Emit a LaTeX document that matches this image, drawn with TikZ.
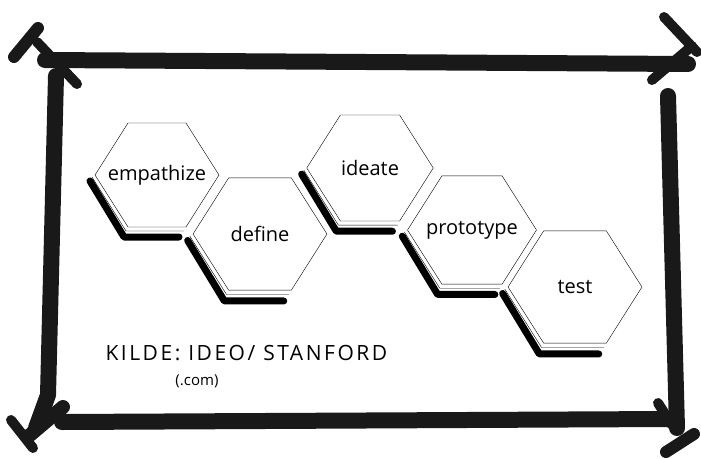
\documentclass[tikz,border=0pt]{standalone}
\usepackage{fontspec}
\setmainfont{Open Sans}
\newfontfamily\handfont[LetterSpace=12]{Open Sans}
\usetikzlibrary{positioning, calc}
\newcommand{\cellfont}{\fontsize{20}{22}\selectfont}
\tikzset{
  marker/.style={line width=16pt, line cap=round, line join=round, draw=black!90},
  tip/.style={line width=10pt, line cap=round, draw=black!90},
  lbl/.style={font=\cellfont, inner sep=1pt},
  hexcell/.pic={
    % shadow and bevel on the lower left
    \draw[line width=7pt, line cap=round, line join=round] (-67,6) -- (-33,62) -- (22,62);
    \draw[thin] (-65,2) -- (-31,56) -- (27,56);
    \filldraw[fill=white, draw=black, thin]
      (-62,0) -- (-29,-52) -- (29,-52) -- (62,0) -- (29,52) -- (-29,52) -- cycle;
    \node[lbl] (-txt) {#1};
  }
}
\begin{document}
\begin{tikzpicture}[x=1pt, y=-1pt]
  \useasboundingbox (0,0) rectangle (701,458);

  % frame
  \coordinate (tl) at (45,60);
  \coordinate (tr) at (688,64);
  \coordinate (lt) at (56,76);
  \coordinate (lb) at (48,395);
  \coordinate (bl) at (62,422);
  \coordinate (br) at (668,419);
  \coordinate (rt) at (668,96);
  \coordinate (rb) at (677,428);
  \draw[marker] (tl) -- (tr);
  \draw[marker] (lt) -- (lb) -- (36,428);
  \draw[marker] (bl) -- (br);
  \draw[marker] (rt) -- (rb);
  \draw[tip, line width=12pt] (14,57) -- (38,28);
  \draw[tip] (37,42) -- (77,84);
  \draw[tip] (664,17) -- (697,52);
  \draw[tip] (652,80) -- (692,46);
  \draw[tip] (11,420) -- (33,448);
  \draw[tip, line width=14pt] (63,407) -- (30,435);
  \draw[tip] (658,403) -- (672,425);
  \draw[tip, line width=12pt] (694,434) -- (666,452);

  % hexagons
  \pic (emp) at (157,175) {hexcell=empathize};
  \pic[scale=1.08] (def) at (260,234) {hexcell=define};
  \pic[scale=1.02] (ide) at (370,168) {hexcell=ideate};
  \pic[scale=1.04] (pro) at (472,230) {hexcell=prototype};
  \pic[scale=1.08] (tes) at (575,287) {hexcell=test};

  \node[font=\handfont\fontsize{21}{23}\selectfont, anchor=west] (src) at (102,353) {KILDE: IDEO/ STANFORD};
  \node[font=\fontsize{15}{17}\selectfont] (com) at (197,381) {(.com)};
\end{tikzpicture}
\end{document}
